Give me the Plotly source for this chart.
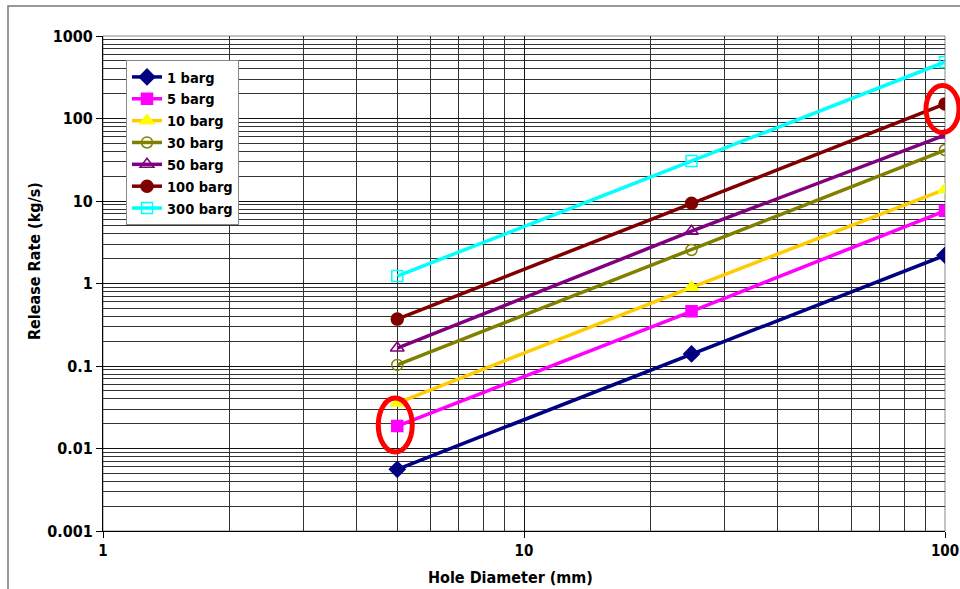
import math
import plotly.graph_objects as go

# ---------------- data ----------------
hole_diameter_mm = [5, 25, 100]
series_names = ["1 barg", "5 barg", "10 barg", "30 barg", "50 barg", "100 barg", "300 barg"]
rate_1 = [0.0056, 0.14, 2.2]
rate_5 = [0.0187, 0.46, 7.6]
rate_10 = [0.0356, 0.90, 13.8]
rate_30 = [0.103, 2.55, 41.5]
rate_50 = [0.165, 4.3, 63]
rate_100 = [0.37, 9.4, 150]
rate_300 = [1.23, 30.5, 484]
x_tick_vals = [1, 10, 100]
x_tick_text = ["1", "10", "100"]
y_tick_vals = [0.001, 0.01, 0.1, 1, 10, 100, 1000]
y_tick_text = ["0.001", "0.01", "0.1", "1", "10", "100", "1000"]
x_title = "Hole Diameter (mm)"
y_title = "Release Rate (kg/s)"
# highlighted points (series index, point index)
highlights = [(1, 0), (5, 2)]

all_rates = [rate_1, rate_5, rate_10, rate_30, rate_50, rate_100, rate_300]
styles = [
    dict(line="#000080", marker="#000080", symbol="diamond", size=12),
    dict(line="#FF00FF", marker="#FF00FF", symbol="square", size=11),
    dict(line="#FFCC00", marker="#FFFF00", symbol="triangle-up", size=12),
    dict(line="#808000", marker="#808000", symbol="circle-open", size=11),
    dict(line="#800080", marker="#800080", symbol="triangle-up-open", size=12),
    dict(line="#800000", marker="#800000", symbol="circle", size=12),
    dict(line="#00FFFF", marker="#00FFFF", symbol="square-open", size=11),
]

W, H = 960, 589
ML, MR, MT, MB = 103, 15, 36, 58
PW, PH = W - ML - MR, H - MT - MB
XR, YR = [0, 2], [-3, 3]
FAM = "DejaVu Sans Condensed, Liberation Sans Narrow, DejaVu Sans"

fig = go.Figure()
for name, ys, st in zip(series_names, all_rates, styles):
    fig.add_trace(go.Scatter(
        x=hole_diameter_mm, y=ys, name=name, mode="lines+markers",
        line=dict(color=st["line"], width=3.5),
        marker=dict(color=st["marker"], symbol=st["symbol"], size=st["size"],
                    line=dict(color=st["marker"], width=1.5)),
    ))

minor_x = [m * 10 ** d for d in range(0, 2) for m in range(2, 10)]
minor_y = [m * 10 ** d for d in range(-3, 3) for m in range(2, 10)]

x_tick_font = dict(family=FAM, size=15, color="black", weight="bold")
y_tick_font = dict(family=FAM, size=16, color="black", weight="bold")
title_font = dict(family=FAM, size=16, color="black", weight="bold")

fig.update_xaxes(
    type="log", range=XR, tickmode="array", tickvals=x_tick_vals, ticktext=x_tick_text,
    showgrid=True, gridcolor="#111", gridwidth=1,
    minor=dict(tickmode="array", tickvals=minor_x, showgrid=True, gridcolor="#333", gridwidth=1),
    ticks="outside", ticklen=6, tickcolor="black",
    showline=True, linecolor="black", linewidth=1,
    tickfont=x_tick_font, zeroline=False, automargin=False,
)
fig.update_yaxes(
    type="log", range=YR, tickmode="array", tickvals=y_tick_vals, ticktext=y_tick_text,
    showgrid=True, gridcolor="#111", gridwidth=1,
    minor=dict(tickmode="array", tickvals=minor_y, showgrid=True, gridcolor="#333", gridwidth=1),
    ticks="outside", ticklen=6, tickcolor="black",
    showline=True, linecolor="black", linewidth=1,
    tickfont=y_tick_font, zeroline=False, automargin=False,
)

shapes = [
    dict(type="rect", xref="paper", yref="paper", x0=0, x1=1, y0=0, y1=1,
         line=dict(color="#888", width=1), layer="below"),
    dict(type="rect", xref="paper", yref="paper",
         x0=(8 - ML) / PW, x1=1.2, y0=-0.3, y1=1 + (MT - 6) / PH,
         line=dict(color="#777", width=1.5)),
]


def to_paper(xv, yv, dx_px, dy_px):
    px = (math.log10(xv) - XR[0]) / (XR[1] - XR[0]) + dx_px / PW
    py = (math.log10(yv) - YR[0]) / (YR[1] - YR[0]) + dy_px / PH
    return px, py


# (dx, dy of centre in px, up positive; width, height in px)
ellipse_geom = [(-2, 1, 34, 54), (-2.5, -5, 33, 47)]
for (si, pi), (cdx, cdy, ew, eh) in zip(highlights, ellipse_geom):
    xv, yv = hole_diameter_mm[pi], all_rates[si][pi]
    x0, y0 = to_paper(xv, yv, cdx - ew / 2, cdy - eh / 2)
    x1, y1 = to_paper(xv, yv, cdx + ew / 2, cdy + eh / 2)
    shapes.append(dict(type="circle", xref="paper", yref="paper",
                       x0=x0, x1=x1, y0=y0, y1=y1,
                       line=dict(color="#FF0000", width=5)))

annotations = [
    dict(text=x_title, xref="paper", yref="paper", x=(510 - ML) / PW, y=-(577 - (H - MB)) / PH,
         xanchor="center", yanchor="middle", showarrow=False, font=title_font),
    dict(text=y_title, xref="paper", yref="paper", x=(34 - ML) / PW, y=((H - MB) - 261) / PH,
         textangle=-90, xanchor="center", yanchor="middle", showarrow=False, font=title_font),
]

fig.update_layout(
    width=W, height=H,
    margin=dict(l=ML, r=MR, t=MT, b=MB),
    paper_bgcolor="white", plot_bgcolor="white",
    showlegend=True,
    legend=dict(x=(126 - ML) / PW, y=((H - MB) - 60) / PH, xanchor="left", yanchor="top",
                bgcolor="white", bordercolor="#888", borderwidth=1,
                font=dict(family=FAM, size=14.5, color="black", weight="bold"),
                itemwidth=30, tracegroupgap=0),
    shapes=shapes,
    annotations=annotations,
)

fig.write_html("out.html", config={"displayModeBar": False},
               post_script="document.body.style.margin='0';")
